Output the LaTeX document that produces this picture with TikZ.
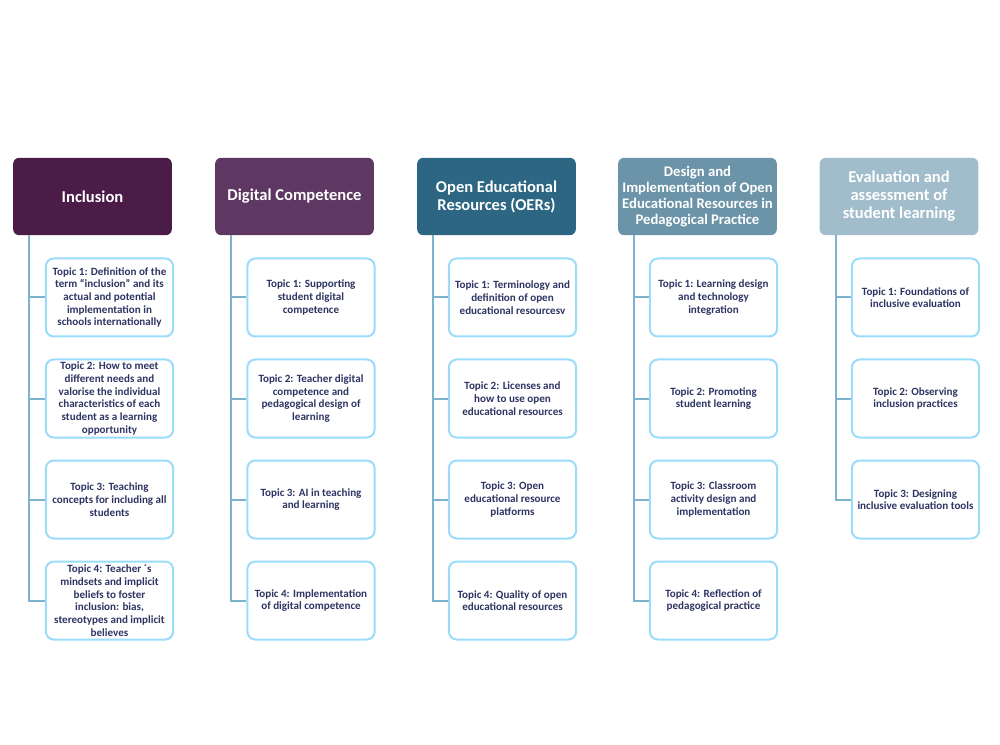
\documentclass[tikz,border=0pt]{standalone}
\usepackage{fontspec}
\setmainfont{Carlito}
\definecolor{hA}{HTML}{4B1C48}
\definecolor{hB}{HTML}{5E3862}
\definecolor{hC}{HTML}{2C6682}
\definecolor{hD}{HTML}{6C94A9}
\definecolor{hE}{HTML}{A1BDCC}
\definecolor{tborder}{HTML}{9ADCF9}
\definecolor{trunk}{HTML}{7EB3CF}
\definecolor{ttext}{HTML}{2E3563}
\tikzset{
  header/.style={draw=none, fill=#1, rounded corners=4.5pt, minimum width=119pt, minimum height=58pt,
    text=white, align=center, font=\fontsize{12.4}{13.5}\selectfont\bfseries, inner sep=2pt},
  smallheader/.style={font=\fontsize{11}{12}\selectfont\bfseries},
  topic/.style={draw=tborder, line width=1.5pt, fill=white, rounded corners=6pt, minimum width=95.5pt,
    minimum height=58.5pt, text=ttext, align=center, font=\fontsize{8.3}{9.5}\selectfont\bfseries, inner sep=2pt},
  conn/.style={draw=trunk, line width=1.5pt}
}
\begin{document}
\begin{tikzpicture}[x=0.75pt,y=-0.75pt]
\useasboundingbox (0,0) rectangle (1000,745);
% headers
\node[header=hA] (h1) at (92.5,196.5) {Inclusion};
\node[header=hB] (h2) at (294.5,196.5) {Digital Competence};
\node[header=hC] (h3) at (496.5,196.5) {Open Educational\\Resources (OERs)};
\node[header=hD, smallheader] (h4) at (697.5,196.5) {Design and\\Implementation of Open\\Educational Resources in\\Pedagogical Practice};
\node[header=hE] (h5) at (899,196.5) {Evaluation and\\assessment of\\student learning};
% trunk roots
\coordinate (r1) at (29,235);
\coordinate (r2) at (231,235);
\coordinate (r3) at (433,235);
\coordinate (r4) at (634,235);
\coordinate (r5) at (836,235);
% column 1
\node[topic] (t11) at (109.5,297.5) {Topic 1: Definition of the\\term “inclusion” and its\\actual and potential\\implementation in\\schools internationally};
\node[topic] (t12) at (109.5,398.5) {Topic 2: How to meet\\different needs and\\valorise the individual\\characteristics of each\\student as a learning\\opportunity};
\node[topic] (t13) at (109.5,499.5) {Topic 3: Teaching\\concepts for including all\\students};
\node[topic] (t14) at (109.5,600.5) {Topic 4: Teacher ´s\\mindsets and implicit\\beliefs to foster\\inclusion: bias,\\stereotypes and implicit\\believes};
% column 2
\node[topic] (t21) at (311,297.5) {Topic 1: Supporting\\student digital\\competence};
\node[topic] (t22) at (311,398.5) {Topic 2: Teacher digital\\competence and\\pedagogical design of\\learning};
\node[topic] (t23) at (311,499.5) {Topic 3: AI in teaching\\and learning};
\node[topic] (t24) at (311,600.5) {Topic 4: Implementation\\of digital competence};
% column 3
\node[topic] (t31) at (512.5,297.5) {Topic 1: Terminology and\\definition of open\\educational resourcesv};
\node[topic] (t32) at (512.5,398.5) {Topic 2: Licenses and\\how to use open\\educational resources};
\node[topic] (t33) at (512.5,499.5) {Topic 3: Open\\educational resource\\platforms};
\node[topic] (t34) at (512.5,600.5) {Topic 4: Quality of open\\educational resources};
% column 4
\node[topic] (t41) at (713.5,297.5) {Topic 1: Learning design\\and technology\\integration};
\node[topic] (t42) at (713.5,398.5) {Topic 2: Promoting\\student learning};
\node[topic] (t43) at (713.5,499.5) {Topic 3: Classroom\\activity design and\\implementation};
\node[topic] (t44) at (713.5,600.5) {Topic 4: Reflection of\\pedagogical practice};
% column 5
\node[topic] (t51) at (915.5,297.5) {Topic 1: Foundations of\\inclusive evaluation};
\node[topic] (t52) at (915.5,398.5) {Topic 2: Observing\\inclusion practices};
\node[topic] (t53) at (915.5,499.5) {Topic 3: Designing\\inclusive evaluation tools};
% connectors
\foreach \c/\last in {1/4,2/4,3/4,4/4,5/3}{
  \draw[conn] (r\c) |- (t\c\last.west);
  \foreach \k in {1,...,\last}{
    \draw[conn] (r\c |- t\c\k.west) -- (t\c\k.west);
  }
}
\end{tikzpicture}
\end{document}
